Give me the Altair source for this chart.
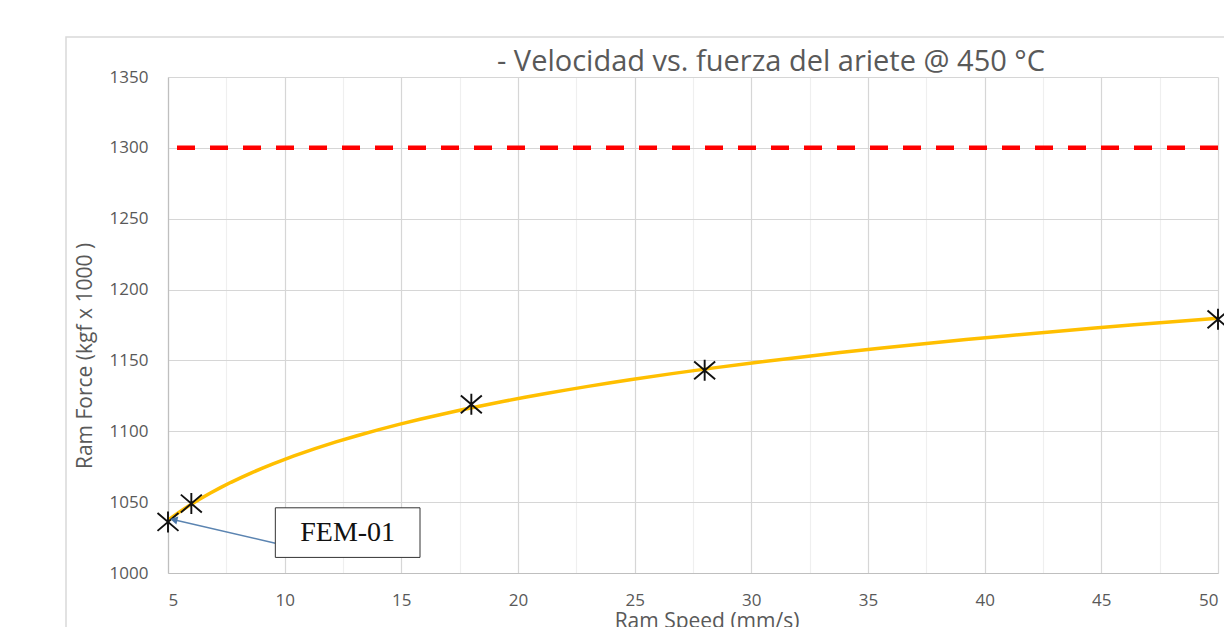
import altair as alt
import pandas as pd

# ---- data ----
speed = [5, 6, 18, 28, 50]
force = [1036, 1049, 1119, 1143, 1179]
limit_force = [1300]
x_ticks = [5, 7.5, 10, 12.5, 15, 17.5, 20, 22.5, 25, 27.5, 30, 32.5, 35, 37.5, 40, 42.5, 45, 47.5, 50]
y_ticks = [1000, 1025, 1050, 1075, 1100, 1125, 1150, 1175, 1200, 1225, 1250, 1275, 1300, 1325, 1350]
x_domain = [5, 50]
y_domain = [1000, 1350]

title_text = "- Velocidad vs. fuerza del ariete @ 450 °C"
x_title = "Ram Speed (mm/s)"
y_title = "Ram Force (kgf x 1000 )"

label_text = ["FEM-01"]
label_x = [12.7]
label_y = [1028.5]
box_x = [9.6]
box_x2 = [15.8]
box_y = [1046]
box_y2 = [1011]
arrow_from_x = [9.6]
arrow_from_y = [1021]
arrow_to_x = [5.3]
arrow_to_y = [1037.4]

W, H = 1050, 496
FONT = "Open Sans"
GRAY = "#595959"

pts = pd.DataFrame({"speed": speed, "force": force})
xs = alt.Scale(domain=x_domain, nice=False, zero=False)
ys = alt.Scale(domain=y_domain, nice=False, zero=False)

x_axis = alt.Axis(
    values=x_ticks, title=None, ticks=False,
    labelExpr="datum.value % 5 === 0 ? datum.label : ''",
    gridColor=alt.ExprRef(expr="datum.value % 5 === 0 ? '#d6d6d6' : '#efefef'"),
    gridWidth=1.2, domainColor="#bfbfbf", domainWidth=1.2,
    labelFont=FONT, labelFontSize=17, labelColor=GRAY, labelPadding=19,
)
y_axis = alt.Axis(
    values=y_ticks, title=None, ticks=False,
    labelExpr="datum.value % 50 === 0 ? datum.label : ''",
    gridColor=alt.ExprRef(expr="datum.value % 50 === 0 ? '#d6d6d6' : '#efefef'"),
    gridWidth=1.2, domainColor="#bfbfbf", domainWidth=1.2,
    labelFont=FONT, labelFontSize=17, labelColor=GRAY, labelPadding=20,
    format="d",
)

one = pd.DataFrame({"a": [0]})

frame = alt.Chart(one).mark_rect(fill="white", fillOpacity=0, stroke="#d9d9d9", strokeWidth=1.5).encode(
    x=alt.value(-102), x2=alt.value(1100), y=alt.value(-40), y2=alt.value(700)
)

base = alt.Chart(pts).mark_point(opacity=0).encode(
    x=alt.X("speed:Q", scale=xs, axis=x_axis),
    y=alt.Y("force:Q", scale=ys, axis=y_axis),
)

limit = alt.Chart(pd.DataFrame({"limit": limit_force})).mark_rule(
    color="#FF0000", strokeWidth=4.5, strokeDash=[18, 15]
).encode(y=alt.Y("limit:Q", scale=ys))

curve = alt.Chart(pts).transform_regression(
    "speed", "force", method="log", extent=x_domain
).mark_line(color="#FFBF00", strokeWidth=3.5).encode(
    x=alt.X("speed:Q", scale=xs), y=alt.Y("force:Q", scale=ys)
)

markers = alt.Chart(pts).mark_point(
    shape="M-1,-0.85L1,0.85M-1,0.85L1,-0.85M0,-1L0,1",
    size=440, filled=False, color="#111111", strokeWidth=1.9, opacity=1,
).encode(x=alt.X("speed:Q", scale=xs), y=alt.Y("force:Q", scale=ys))

ann = pd.DataFrame({
    "label": label_text, "lx": label_x, "ly": label_y,
    "bx": box_x, "bx2": box_x2, "by": box_y, "by2": box_y2,
    "ax": arrow_from_x, "ay": arrow_from_y, "tx": arrow_to_x, "ty": arrow_to_y,
})

arrow = alt.Chart(ann).mark_rule(color="#5b84b1", strokeWidth=1.4).encode(
    x=alt.X("ax:Q", scale=xs), y=alt.Y("ay:Q", scale=ys),
    x2="tx:Q", y2="ty:Q",
)
arrow_head = alt.Chart(ann).mark_point(
    shape="triangle", filled=True, color="#4a76a8", size=70, angle=283, opacity=1
).encode(x=alt.X("tx:Q", scale=xs), y=alt.Y("ty:Q", scale=ys))

box = alt.Chart(ann).mark_rect(fill="white", stroke="#333333", strokeWidth=1).encode(
    x=alt.X("bx:Q", scale=xs), x2="bx2:Q",
    y=alt.Y("by:Q", scale=ys), y2="by2:Q",
)
box_text = alt.Chart(ann).mark_text(
    font="Liberation Serif", fontSize=28, color="#111111", align="center", baseline="middle"
).encode(x=alt.X("lx:Q", scale=xs), y=alt.Y("ly:Q", scale=ys), text="label:N")

title = alt.Chart(one).mark_text(
    font=FONT, fontSize=29, color=GRAY, align="center", baseline="alphabetic"
).encode(x=alt.value(603), y=alt.value(-6), text=alt.value(title_text))

ytitle = alt.Chart(one).mark_text(
    font=FONT, fontSize=21, color=GRAY, align="center", baseline="middle", angle=270
).encode(x=alt.value(-82), y=alt.value(279), text=alt.value(y_title))

xtitle = alt.Chart(one).mark_text(
    font=FONT, fontSize=21, color=GRAY, align="center", baseline="alphabetic"
).encode(x=alt.value(539), y=alt.value(551), text=alt.value(x_title))

chart = alt.layer(
    frame, base, limit, curve, markers, arrow, arrow_head, box, box_text, title, ytitle, xtitle
).properties(
    width=W, height=H,
    autosize=alt.AutoSizeParams(type="none"),
    padding={"left": 160, "top": 69, "right": 6, "bottom": 54},
    background="white",
).configure_view(strokeWidth=0)

chart.save("out.html", embed_options={"renderer": "svg", "actions": False})
